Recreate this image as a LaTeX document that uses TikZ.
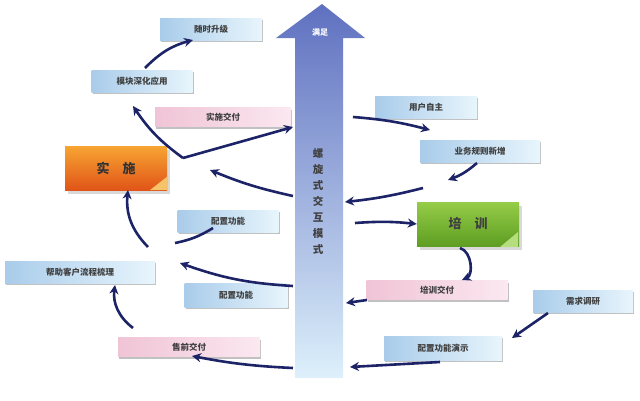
\documentclass[tikz,border=0pt]{standalone}
\usepackage{fontspec}
\setmainfont{Noto Sans CJK SC}
\usetikzlibrary{arrows.meta,shadows}
\definecolor{navy}{HTML}{1C2366}
\definecolor{bdark}{HTML}{A9CCEA}
\definecolor{blight}{HTML}{E8F5FC}
\definecolor{pdark}{HTML}{F0C4D6}
\definecolor{plight}{HTML}{FBE8F0}
\definecolor{atop}{HTML}{5F70C0}
\definecolor{abot}{HTML}{DDF0FB}
\definecolor{otop}{HTML}{F8A533}
\definecolor{obot}{HTML}{E05418}
\definecolor{ofold}{HTML}{F6C36A}
\definecolor{gtop}{HTML}{96CC48}
\definecolor{gbot}{HTML}{5E9E22}
\definecolor{gfold}{HTML}{B6DE7E}
\tikzset{
  x=1pt,y=-1pt,
  bbox/.style={minimum height=22pt,inner sep=0pt,left color=bdark,right color=blight,
     font=\fontsize{8.5}{10}\selectfont\bfseries,text=black!75,
     drop shadow={shadow xshift=1pt,shadow yshift=-2pt,fill=black!35,opacity=.7}},
  pbox/.style={bbox,minimum height=19pt,left color=pdark,right color=plight},
  bigbox/.style={minimum width=102pt,minimum height=44pt,inner sep=0pt,
     font=\fontsize{13}{15}\selectfont\bfseries,
     drop shadow={shadow xshift=3pt,shadow yshift=-4pt,fill=black!25,opacity=.6}},
  flow/.style={draw=navy,line width=2.6pt,-{Stealth[length=9pt,width=9pt]}},
  flown/.style={draw=navy,line width=2.6pt},
}
\begin{document}
\begin{tikzpicture}
\useasboundingbox (0,0) rectangle (640,400);
% central arrow
\shade[top color=atop,bottom color=abot] (295,378) -- (295,38) -- (276,38) -- (322,4) -- (365,38) -- (343,38) -- (343,378) -- cycle;
\node[text=white,font=\fontsize{8}{9}\selectfont\bfseries] (manzu) at (320,32) {满足};
\node[align=center,font=\fontsize{10.5}{16}\selectfont\bfseries,text=black!75] (spiral) at (318,202) {螺\\旋\\式\\交\\互\\模\\式};
\coordinate (cA) at (293,127);
\coordinate (cB) at (293,196);
\coordinate (cC) at (293,286);
\coordinate (cD) at (293,368);
\coordinate (cE) at (345,202);
\coordinate (cF) at (346,303);
\coordinate (cG) at (350,367);
\coordinate (cH) at (353,117);
\coordinate (cI) at (355,223);
% boxes
\node[bbox,minimum width=102pt] (sj) at (211,29) {随时升级};
\node[bbox,minimum width=101pt] (mk) at (142,81) {模块深化应用};
\node[pbox,minimum width=136pt] (ssjf) at (223,117) {实施交付};
\node[bigbox,top color=otop,bottom color=obot,text=black!80] (ss) at (116,168) {实\quad 施};
\fill[ofold] (168,176) -- (168,190) -- (150,190) -- cycle;
\node[bbox,minimum width=101pt] (pz1) at (228,221) {配置功能};
\node[bbox,minimum width=150pt] (bz) at (80,272) {帮助客户流程梳理};
\node[bbox,minimum width=103pt,minimum height=24pt] (pz2) at (236,295) {配置功能};
\node[pbox,minimum width=142pt] (sq) at (189,347) {售前交付};
\node[bbox,minimum width=102pt] (yh) at (426,107) {用户自主};
\node[bbox,minimum width=120pt] (yw) at (480,151) {业务规则新增};
\node[bigbox,top color=gtop,bottom color=gbot,text=black!75] (px) at (468,224) {培\quad 训};
\fill[gfold] (518,232) -- (518,247) -- (500,247) -- cycle;
\node[pbox,minimum width=141pt] (pxjf) at (437,290) {培训交付};
\node[bbox,minimum width=100pt] (xq) at (583,301) {需求调研};
\node[bbox,minimum width=118pt,minimum height=24pt] (ys) at (443,348) {配置功能演示};
% connectors
\coordinate (v) at (183,158);
\coordinate (mkin) at (133,106);
\coordinate (sjin) at (193,40);
\coordinate (mkout) at (145,68);
\coordinate (ssin) at (128,190);
\coordinate (ssleft) at (210,170);
\coordinate (j1) at (148,247);
\coordinate (j2) at (175,243);
\coordinate (j3) at (180,263);
\coordinate (pz1a) at (213,228);
\coordinate (sqa) at (133,328);
\coordinate (bzin) at (115,285);
\coordinate (sqin) at (192,356);
\coordinate (yhin) at (430,130);
\coordinate (ywa) at (477,163);
\coordinate (ywb) at (448,180);
\coordinate (ywc) at (423,188);
\coordinate (pxa) at (460,248);
\coordinate (pxjfin) at (462,280);
\coordinate (pxjfa) at (367,300);
\coordinate (xqa) at (548,313);
\coordinate (ysin) at (512,338);
\coordinate (ysa) at (440,362);
\draw[flow] (mkout) to[bend left=15] (sjin);
\draw[flow] (v) -- (cA);
\draw[flow] (v) to[bend left=10] (mkin);
\draw[flow] (cB) to[bend left=5] (ssleft);
\draw[flow] (j1) to[bend left=25] (ssin);
\draw[flown] (pz1a) to[bend left=10] (j2);
\draw[flow] (cC) to[bend left=8] (j3);
\draw[flow] (sqa) to[bend left=30] (bzin);
\draw[flow] (cD) to[bend left=4] (sqin);
\draw[flow] (cH) to[bend left=5] (yhin);
\draw[flow] (ywa) to[bend left=10] (ywb);
\draw[flow] (ywc) to[bend left=4] (cE);
\draw[flow] (cI) to[bend left=5] (px.west);
\draw[flow] (pxa) to[bend left=70] (pxjfin);
\draw[flow] (pxjfa) -- (cF);
\draw[flow] (xqa) -- (ysin);
\draw[flow] (ysa) -- (cG);
\end{tikzpicture}
\end{document}
